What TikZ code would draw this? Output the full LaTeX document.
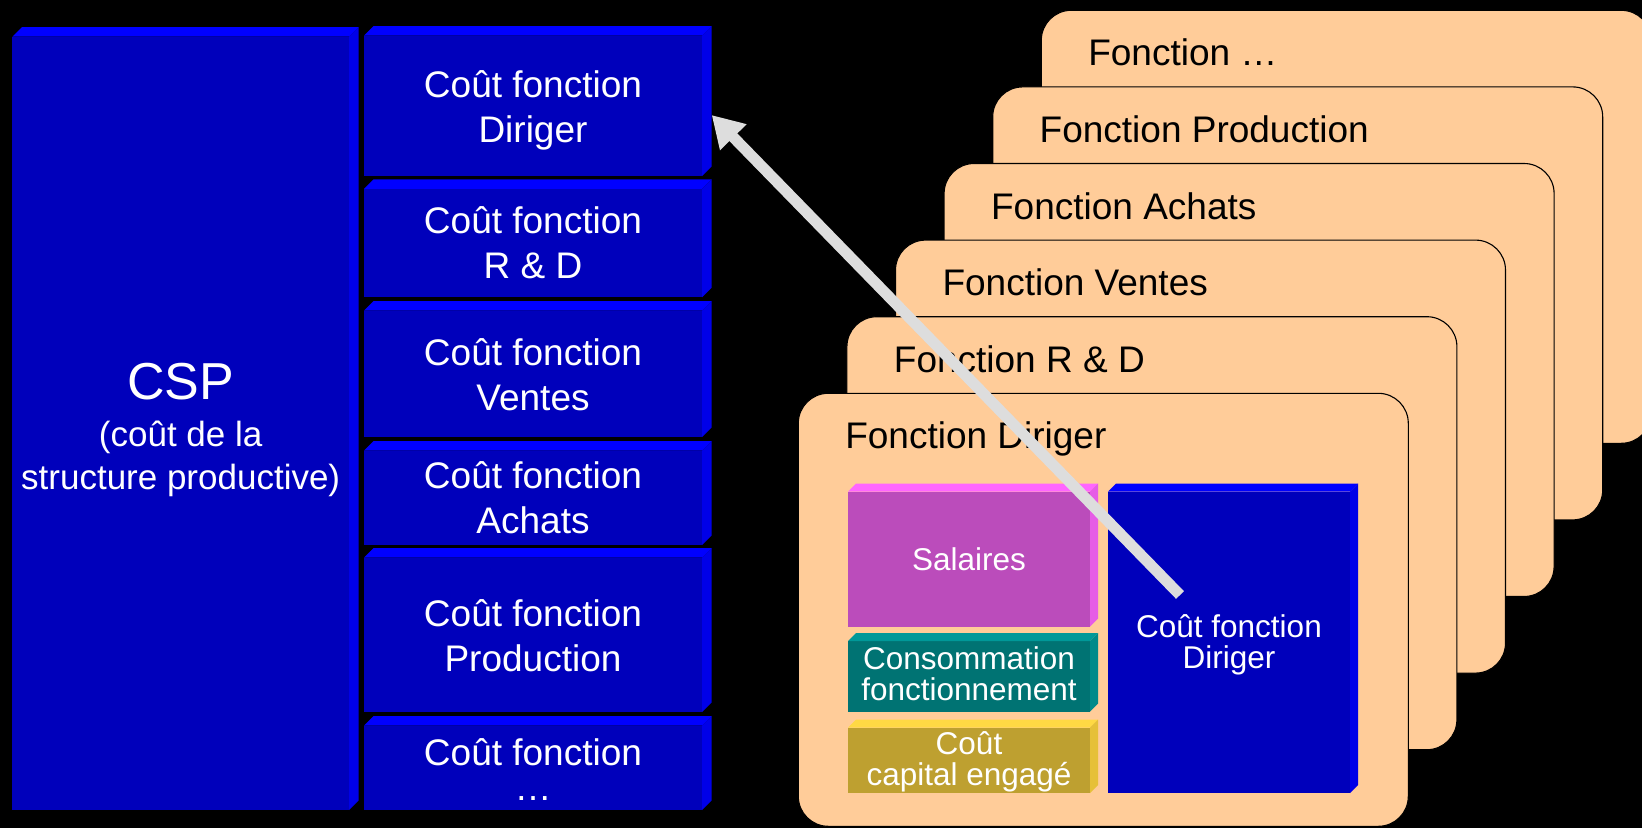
\documentclass[tikz,border=0pt]{standalone}
\usepackage{fontspec}
\setmainfont{Liberation Sans}
\usetikzlibrary{arrows.meta}

\definecolor{fblue}{HTML}{0000BB}
\definecolor{tblue}{HTML}{0000FF}
\definecolor{sblue}{HTML}{0000E8}
\definecolor{fmag}{HTML}{BB4CBB}
\definecolor{tmag}{HTML}{FF66FF}
\definecolor{smag}{HTML}{E65CE6}
\definecolor{fteal}{HTML}{007373}
\definecolor{tteal}{HTML}{009999}
\definecolor{steal}{HTML}{008A8A}
\definecolor{fgold}{HTML}{BEA030}
\definecolor{tgold}{HTML}{FFD944}
\definecolor{sgold}{HTML}{E6C038}
\definecolor{peach}{HTML}{FFCC99}
\definecolor{arrowgray}{HTML}{DDDDDD}

% top and right faces of a cube whose front face is node #1
\newcommand{\cubeface}[4]{%
  \fill[#3] (#1.north west) -- ++(#2pt,#2pt) -- ([shift={(#2pt,#2pt)}]#1.north east) -- (#1.north east) -- cycle;
  \fill[#4] (#1.north east) -- ++(#2pt,#2pt) -- ([shift={(#2pt,#2pt)}]#1.south east) -- (#1.south east) -- cycle;}

\tikzset{
  face/.style={inner sep=0pt, outer sep=0pt, draw=none, align=center, text=white},
  costbox/.style={face, fill=fblue, minimum width=338pt, font=\fontsize{37}{45}\selectfont},
  card/.style={draw=black, line width=1.1pt, fill=peach, rounded corners=30pt,
               minimum width=610pt, minimum height=433pt, anchor=north west,
               inner sep=0pt, outer sep=0pt},
  cardtitle/.style={anchor=base west, inner sep=0pt, outer sep=0pt,
               font=\fontsize{37}{45}\selectfont, text=black},
  part/.style={face, minimum width=242pt, font=\fontsize{31.5}{31}\selectfont},
  bigarrow/.style={draw=arrowgray, line width=11pt, line cap=butt,
               -{Triangle[length=31pt,width=35pt]}},
}

\begin{document}
\begin{tikzpicture}[x=1pt,y=-1pt]
  \useasboundingbox (0,0) rectangle (1642,828);
  \fill[black] (0,0) rectangle (1642,828);
  \clip (0,0) rectangle (1642,828);

  % ---- left: CSP block
  \node[face, fill=fblue, minimum width=336.6pt, minimum height=773.3pt,
        font=\fontsize{35}{42.5}\selectfont, text height=131.3pt, text depth=0pt]
        (csp) at (180.7,423.35)
        {{\fontsize{52}{52}\selectfont CSP}\\[4.2pt](coût de la\\structure productive)};
  \cubeface{csp}{9.5}{tblue}{sblue}

  % ---- cost column
  \node[costbox, minimum height=140.5pt, text height=72.5pt, text depth=0pt]
        (c1) at (533,105.75) {Coût fonction\\Diriger};
  \cubeface{c1}{9.5}{tblue}{sblue}
  \node[costbox, minimum height=108.7pt, text height=70.4pt, text depth=0pt]
        (c2) at (533,243.1) {Coût fonction\\R \& D};
  \cubeface{c2}{9.5}{tblue}{sblue}
  \node[costbox, minimum height=126.5pt, text height=72.5pt, text depth=0pt]
        (c3) at (533,373.75) {Coût fonction\\Ventes};
  \cubeface{c3}{9.5}{tblue}{sblue}
  \node[costbox, minimum height=94.5pt, text height=71.1pt, text depth=0pt]
        (c4) at (533,497.75) {Coût fonction\\Achats};
  \cubeface{c4}{9.5}{tblue}{sblue}
  \node[costbox, minimum height=154.5pt, text height=73.1pt, text depth=0pt]
        (c5) at (533,634.75) {Coût fonction\\Production};
  \cubeface{c5}{9.5}{tblue}{sblue}
  \node[costbox, minimum height=84.5pt, text height=64.5pt, text depth=0pt,
        font=\fontsize{37}{35}\selectfont]
        (c6) at (533,767.75) {Coût fonction\\…};
  \cubeface{c6}{9.5}{tblue}{sblue}

  % ---- stacked function cards (back to front)
  \node[card] (kEtc) at (1041.3,10.3) {};
  \node[cardtitle] (tEtc) at ([shift={(47pt,-55.5pt)}]kEtc.north west) {Fonction …};
  \node[card] (kProd) at (992.7,86.9) {};
  \node[cardtitle] (tProd) at ([shift={(47pt,-55.5pt)}]kProd.north west) {Fonction Production};
  \node[card] (kAch) at (944.1,163.5) {};
  \node[cardtitle] (tAch) at ([shift={(47pt,-55.5pt)}]kAch.north west) {Fonction Achats};
  \node[card] (kVen) at (895.5,240.1) {};
  \node[cardtitle] (tVen) at ([shift={(47pt,-55.5pt)}]kVen.north west) {Fonction Ventes};
  \node[card] (kRD) at (846.9,316.7) {};
  \node[cardtitle] (tRD) at ([shift={(47pt,-55.5pt)}]kRD.north west) {Fonction R \& D};
  \node[card] (kDir) at (798.3,393.3) {};
  \node[cardtitle] (tDir) at ([shift={(47pt,-55.5pt)}]kDir.north west) {Fonction Diriger};

  % ---- parts of the Diriger function
  \node[part, fill=fmag, minimum height=135pt, text height=21.6pt, text depth=0pt]
        (sal) at (969,559.2) {Salaires};
  \cubeface{sal}{8}{tmag}{smag}
  \node[part, fill=fteal, minimum height=70.7pt, text height=48.7pt, text depth=0pt]
        (cons) at (969,676.35) {Consommation\\fonctionnement};
  \cubeface{cons}{8}{tteal}{steal}
  \node[part, fill=fgold, minimum height=65.3pt, text height=49.3pt, text depth=0pt]
        (capi) at (969,760.35) {Coût\\capital engagé};
  \cubeface{capi}{8}{tgold}{sgold}
  \node[part, fill=fblue, minimum height=301.3pt, text height=51.3pt, text depth=0pt]
        (dirc) at (1229,642.35) {Coût fonction\\Diriger};
  \cubeface{dirc}{8}{tblue}{sblue}

  % ---- arrow from the Diriger cost to the cost column
  \coordinate (atail) at (1180,595);
  \draw[bigarrow] (atail) -- ([shift={(9.7pt,-9.3pt)}]c1.east);
\end{tikzpicture}
\end{document}
